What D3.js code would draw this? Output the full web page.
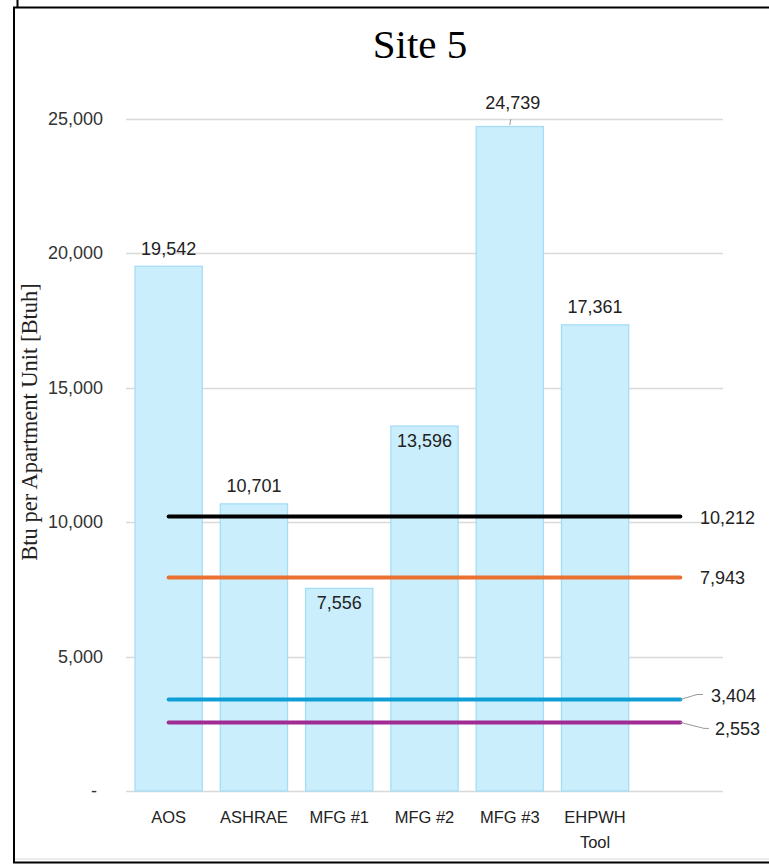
<!DOCTYPE html>
<html><head><meta charset="utf-8">
<script src="https://cdn.jsdelivr.net/npm/d3@7"></script>
<style>body{margin:0;background:#fff}svg{display:block}</style>
</head><body>
<svg id="c" width="769" height="865"></svg>
<script>
const categories = ["AOS","ASHRAE","MFG #1","MFG #2","MFG #3","EHPWH Tool",""];
const values = [19542,10701,7556,13596,24739,17361];
const labelInside = [false,false,true,true,false,false];
const refLabels = ["black","orange","blue","purple"];
const refValues = [10212,7943,3404,2553];
const refColors = ["#000000","#E97132","#0F9ED5","#A02B93"];
const yTicks = [0,5000,10000,15000,20000,25000];

const svg = d3.select("#c");
const fmt = d3.format(",");
const numFont = "Liberation Sans, Arial, sans-serif";

// frame
svg.append("line").attr("x1",17.5).attr("x2",17.5).attr("y1",0).attr("y2",7).attr("stroke","#000").attr("stroke-width",2);
svg.append("path").attr("d","M769,7.5 H14 V862.5 H769").attr("fill","none").attr("stroke","#000").attr("stroke-width",2);
svg.append("line").attr("x1",15).attr("x2",769).attr("y1",859).attr("y2",859).attr("stroke","#d9d9d9").attr("stroke-width",1);

const x = d3.scaleBand().domain(categories).range([126,723]).paddingInner(0.2).paddingOuter(0.1);
const y = d3.scaleLinear().domain([0,25000]).range([791,119]);

// gridlines
svg.append("g").selectAll("line").data(yTicks).join("line")
  .attr("x1",126).attr("x2",723).attr("y1",d=>Math.round(y(d))+0.5).attr("y2",d=>Math.round(y(d))+0.5)
  .attr("stroke","#d9d9d9").attr("stroke-width",1.3);

// y tick labels
svg.append("g").selectAll("text").data(yTicks).join("text")
  .attr("x",d=>d===0?97:103).attr("y",d=>y(d)+6)
  .attr("text-anchor","end").attr("font-family",numFont).attr("font-size",18).attr("fill","#333")
  .text(d=>d===0?"-":fmt(d));

// bars
svg.append("g").selectAll("rect").data(values).join("rect")
  .attr("x",(d,i)=>x(categories[i])+0.5).attr("y",d=>y(d)+0.5)
  .attr("width",x.bandwidth()-1).attr("height",d=>y(0)-y(d)-0.5)
  .attr("fill","#CAEEFB").attr("stroke","#A6DDF5").attr("stroke-width",1.3);

// bar labels
svg.append("g").selectAll("text").data(values).join("text")
  .attr("x",(d,i)=>x(categories[i])+x.bandwidth()/2+(i===4?3:0))
  .attr("y",(d,i)=>labelInside[i]?y(d)+21:(i===4?y(d)-17:y(d)-11))
  .attr("text-anchor","middle").attr("font-family",numFont).attr("font-size",18).attr("fill","#222")
  .text(d=>fmt(d));
// leader line for MFG #3
svg.append("line").attr("x1",x("MFG #3")+x.bandwidth()/2+1).attr("y1",y(values[4])-7)
  .attr("x2",x("MFG #3")+x.bandwidth()/2).attr("y2",y(values[4])-1).attr("stroke","#999").attr("stroke-width",1);

// x labels
const xl = svg.append("g");
categories.forEach(c=>{
  if(!c) return;
  const parts = c==="EHPWH Tool"?["EHPWH","Tool"]:[c];
  parts.forEach((p,j)=>{
    xl.append("text").attr("x",x(c)+x.bandwidth()/2).attr("y",823+j*25)
      .attr("text-anchor","middle").attr("font-family",numFont).attr("font-size",16.5).attr("fill","#222").text(p);
  });
});

// reference lines
const xs = x(categories[0])+x.bandwidth()/2, xe = x(categories[6])+x.bandwidth()/2;
svg.append("g").selectAll("line").data(refValues).join("line")
  .attr("x1",xs).attr("x2",xe).attr("y1",d=>y(d)).attr("y2",d=>y(d))
  .attr("stroke",(d,i)=>refColors[i]).attr("stroke-width",4).attr("stroke-linecap","round");

// ref labels
const refLabelPos = [[700,7],[700,7],[711,2],[715,13]];
svg.append("g").selectAll("text").data(refValues).join("text")
  .attr("x",(d,i)=>refLabelPos[i][0]).attr("y",(d,i)=>y(d)+refLabelPos[i][1])
  .attr("font-family",numFont).attr("font-size",18).attr("fill","#222").text(d=>fmt(d));
// leaders for small values
svg.append("path").attr("d",`M${xe},${y(refValues[2])} L697,${y(refValues[2])-5} H703`)
  .attr("fill","none").attr("stroke","#999").attr("stroke-width",1);
svg.append("path").attr("d",`M${xe},${y(refValues[3])} L704,${y(refValues[3])+6} H709`)
  .attr("fill","none").attr("stroke","#999").attr("stroke-width",1);

// title
svg.append("text").attr("x",420).attr("y",58).attr("text-anchor","middle")
  .attr("font-family","Liberation Serif, Times New Roman, serif").attr("font-size",41).attr("fill","#000").text("Site 5");
// y axis title
svg.append("text").attr("transform","translate(37,422) rotate(-90)").attr("text-anchor","middle")
  .attr("font-family","Liberation Serif, Times New Roman, serif").attr("font-size",22.5).attr("fill","#222")
  .text("Btu per Apartment Unit [Btuh]");
</script>
</body></html>
